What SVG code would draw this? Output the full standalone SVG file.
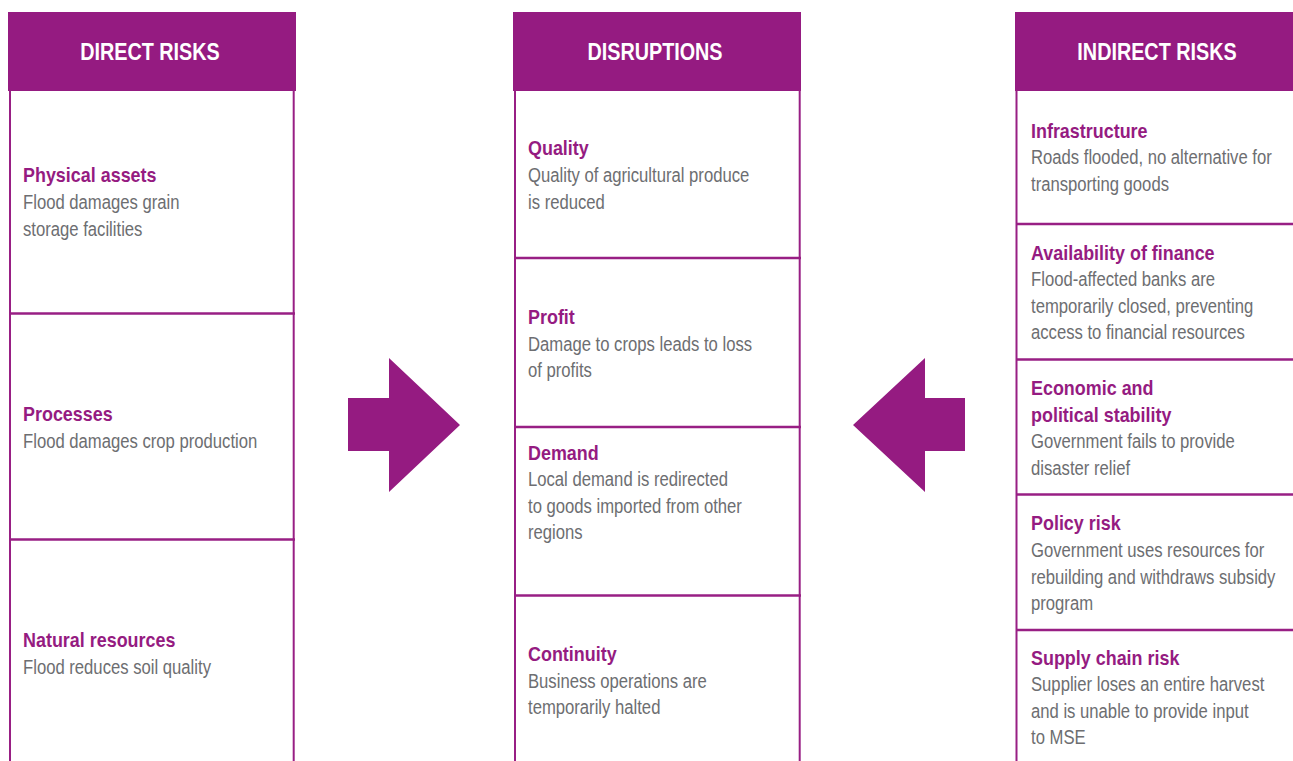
<svg xmlns="http://www.w3.org/2000/svg" width="1293" height="761" viewBox="0 0 1293 761">
<style>
.hdr{fill:#951b81}
.ln{stroke:#981f84;stroke-width:2.5;fill:none}
.vl{stroke:#981f84;stroke-width:2;fill:none}
.ht{font-family:"Liberation Sans",Arial,sans-serif;font-weight:bold;font-size:23px;fill:#ffffff;text-anchor:middle}
.b{font-family:"Liberation Sans",Arial,sans-serif;font-weight:bold;font-size:19.5px;fill:#951b81}
.r{font-family:"Liberation Sans",Arial,sans-serif;font-size:19.5px;fill:#6d6e71}
.arr{fill:#951b81}
</style>
<rect width="1293" height="761" fill="#ffffff"/>

<g id="col-direct">
<rect class="hdr" x="8" y="12" width="288" height="79"/>
<text class="ht" transform="translate(150,60) scale(0.86,1)">DIRECT RISKS</text>
<line class="vl" x1="10" y1="90" x2="10" y2="761"/>
<line class="vl" x1="293.7" y1="90" x2="293.7" y2="761"/>
<line class="ln" x1="9" y1="313.5" x2="295" y2="313.5"/>
<line class="ln" x1="9" y1="539.5" x2="295" y2="539.5"/>
</g>
<g id="node-physical">
<text class="b" transform="translate(23,182) scale(0.92,1)">Physical assets</text>
<text class="r" transform="translate(23,209) scale(0.855,1)">Flood damages grain</text>
<text class="r" transform="translate(23,236) scale(0.855,1)">storage facilities</text>
</g>
<g id="node-processes">
<text class="b" transform="translate(23,420.5) scale(0.92,1)">Processes</text>
<text class="r" transform="translate(23,448) scale(0.855,1)">Flood damages crop production</text>
</g>
<g id="node-natural">
<text class="b" transform="translate(23,647) scale(0.92,1)">Natural resources</text>
<text class="r" transform="translate(23,674) scale(0.855,1)">Flood reduces soil quality</text>
</g>

<g id="col-disruptions">
<rect class="hdr" x="513" y="12" width="288" height="79"/>
<text class="ht" transform="translate(655,60) scale(0.86,1)">DISRUPTIONS</text>
<line class="vl" x1="515" y1="90" x2="515" y2="761"/>
<line class="vl" x1="799.7" y1="90" x2="799.7" y2="761"/>
<line class="ln" x1="514" y1="258" x2="801" y2="258"/>
<line class="ln" x1="514" y1="427" x2="801" y2="427"/>
<line class="ln" x1="514" y1="595.5" x2="801" y2="595.5"/>
</g>
<g id="node-quality">
<text class="b" transform="translate(528,155) scale(0.92,1)">Quality</text>
<text class="r" transform="translate(528,182) scale(0.855,1)">Quality of agricultural produce</text>
<text class="r" transform="translate(528,209) scale(0.855,1)">is reduced</text>
</g>
<g id="node-profit">
<text class="b" transform="translate(528,324) scale(0.92,1)">Profit</text>
<text class="r" transform="translate(528,350.5) scale(0.855,1)">Damage to crops leads to loss</text>
<text class="r" transform="translate(528,377) scale(0.855,1)">of profits</text>
</g>
<g id="node-demand">
<text class="b" transform="translate(528,459.5) scale(0.92,1)">Demand</text>
<text class="r" transform="translate(528,486) scale(0.855,1)">Local demand is redirected</text>
<text class="r" transform="translate(528,512.5) scale(0.855,1)">to goods imported from other</text>
<text class="r" transform="translate(528,539) scale(0.855,1)">regions</text>
</g>
<g id="node-continuity">
<text class="b" transform="translate(528,661) scale(0.92,1)">Continuity</text>
<text class="r" transform="translate(528,687.5) scale(0.855,1)">Business operations are</text>
<text class="r" transform="translate(528,714) scale(0.855,1)">temporarily halted</text>
</g>

<g id="col-indirect">
<rect class="hdr" x="1015" y="12" width="278" height="79"/>
<text class="ht" transform="translate(1157,60) scale(0.86,1)">INDIRECT RISKS</text>
<line class="vl" x1="1016.5" y1="90" x2="1016.5" y2="761"/>
<line class="ln" x1="1016" y1="224" x2="1293" y2="224"/>
<line class="ln" x1="1016" y1="359.5" x2="1293" y2="359.5"/>
<line class="ln" x1="1016" y1="494.5" x2="1293" y2="494.5"/>
<line class="ln" x1="1016" y1="630" x2="1293" y2="630"/>
</g>
<g id="node-infrastructure">
<text class="b" transform="translate(1031,137.5) scale(0.92,1)">Infrastructure</text>
<text class="r" transform="translate(1031,164) scale(0.855,1)">Roads flooded, no alternative for</text>
<text class="r" transform="translate(1031,190.5) scale(0.855,1)">transporting goods</text>
</g>
<g id="node-finance">
<text class="b" transform="translate(1031,259.5) scale(0.92,1)">Availability of finance</text>
<text class="r" transform="translate(1031,286) scale(0.855,1)">Flood-affected banks are</text>
<text class="r" transform="translate(1031,312.5) scale(0.855,1)">temporarily closed, preventing</text>
<text class="r" transform="translate(1031,339) scale(0.855,1)">access to financial resources</text>
</g>
<g id="node-economic">
<text class="b" transform="translate(1031,395) scale(0.92,1)">Economic and</text>
<text class="b" transform="translate(1031,421.5) scale(0.92,1)">political stability</text>
<text class="r" transform="translate(1031,448) scale(0.855,1)">Government fails to provide</text>
<text class="r" transform="translate(1031,474.5) scale(0.855,1)">disaster relief</text>
</g>
<g id="node-policy">
<text class="b" transform="translate(1031,530) scale(0.92,1)">Policy risk</text>
<text class="r" transform="translate(1031,557) scale(0.855,1)">Government uses resources for</text>
<text class="r" transform="translate(1031,583.5) scale(0.855,1)">rebuilding and withdraws subsidy</text>
<text class="r" transform="translate(1031,610) scale(0.855,1)">program</text>
</g>
<g id="node-supply">
<text class="b" transform="translate(1031,664.5) scale(0.92,1)">Supply chain risk</text>
<text class="r" transform="translate(1031,691) scale(0.855,1)">Supplier loses an entire harvest</text>
<text class="r" transform="translate(1031,717.5) scale(0.855,1)">and is unable to provide input</text>
<text class="r" transform="translate(1031,744) scale(0.855,1)">to MSE</text>
</g>

<g id="connectors">
<polygon class="arr" points="348,398 389,398 389,358 460,425 389,492 389,451 348,451"/>
<polygon class="arr" points="965,398 925,398 925,358 853,425 925,492 925,451 965,451"/>
</g>
</svg>
